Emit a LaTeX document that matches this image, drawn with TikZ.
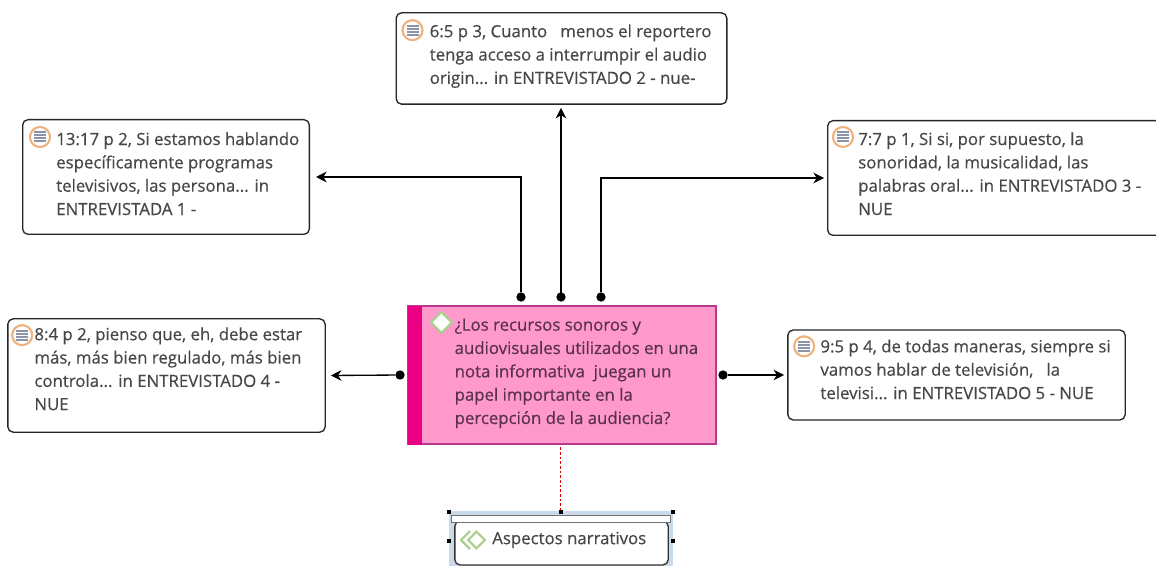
\documentclass[tikz,border=0pt]{standalone}
\usepackage{fontspec}
\setmainfont[FakeBold=0.5]{Open Sans}
\usetikzlibrary{arrows.meta,calc}

\definecolor{notetxt}{HTML}{474747}
\definecolor{mainfill}{HTML}{FF99CC}
\definecolor{mainline}{HTML}{B83A8E}
\definecolor{mainband}{HTML}{EA0082}
\definecolor{maintxt}{HTML}{5A3052}
\definecolor{iconring}{HTML}{EDB27E}
\definecolor{iconbars}{HTML}{8A94A6}
\definecolor{codegreen}{HTML}{A9D08E}
\definecolor{selblue}{HTML}{CBDAEA}

\begin{document}
\begin{tikzpicture}[x=0.75pt,y=-0.75pt,>={Stealth[length=8pt,width=8pt]},
    quote/.style={draw=black!85,line width=1pt,rounded corners=4pt,fill=white,inner sep=0pt},
    quotetext/.style={anchor=north west,inner sep=0pt,align=left,text=notetxt,
      font=\fontsize{12.6pt}{17.5pt}\selectfont},
    link/.style={->,line width=1pt,black},
    dot/.style={circle,fill=black,inner sep=0pt,minimum size=7pt},
    handle/.style={fill=black,inner sep=0pt,minimum size=3pt},
    noteicon/.pic={
      \draw[iconring,line width=1.6pt,fill=white] (0,0) circle (10);
      \foreach \i in {-4.5,-1.5,1.5,4.5}
        \draw[iconbars,line width=1.5pt] (-6,\i) -- (6,\i);
    },
    codeicon/.pic={
      \draw[codegreen,line width=1.6pt,fill=white] (-10.5,0) -- (0,-10.5) -- (10.5,0) -- (0,10.5) -- cycle;
    }]
  \useasboundingbox (0,0) rectangle (1156,566);

  % question in the middle
  \node[draw=mainline,line width=0.9pt,fill=mainfill,minimum width=231pt,minimum height=103.5pt,inner sep=0pt] (main) at (562,375) {};
  \fill[mainband] ([shift={(0.5,0.5)}]main.north west) rectangle ([xshift=11.25pt]main.south west);
  \node[quotetext,text=maintxt] (maintext) at ([shift={(47,13)}]main.north west)
    {¿Los recursos sonoros y\\audiovisuales utilizados en una\\nota informativa\ \ juegan un\\papel importante en la\\percepción de la audiencia?};
  \pic at ([shift={(34,17)}]main.north west) {codeicon};

  % quotations
  \node[quote,minimum width=248pt,minimum height=68.5pt] (q65) at (561.5,58.5) {};
  \node[quotetext] (q65text) at ([shift={(34,12)}]q65.north west)
    {6:5 p 3, Cuanto\ \ \ menos el reportero\\tenga acceso a interrumpir el audio\\origin... in ENTREVISTADO 2 - nue-};
  \pic at ([shift={(17,18)}]q65.north west) {noteicon};

  \node[quote,minimum width=215pt,minimum height=86pt] (q1317) at (166,177) {};
  \node[quotetext] (q1317text) at ([shift={(34,13)}]q1317.north west)
    {13:17 p 2, Si estamos hablando\\específicamente programas\\televisivos, las persona... in\\ENTREVISTADA 1 -};
  \pic at ([shift={(18,18)}]q1317.north west) {noteicon};

  \node[quote,minimum width=260pt,minimum height=86pt] (q77) at (1001,178) {};
  \node[quotetext] (q77text) at ([shift={(31,12)}]q77.north west)
    {7:7 p 1, Si si, por supuesto, la\\sonoridad, la musicalidad, las\\palabras oral... in ENTREVISTADO 3 -\\NUE};
  \pic at ([shift={(16,17)}]q77.north west) {noteicon};

  \node[quote,minimum width=238pt,minimum height=85pt] (q84) at (166.5,375.5) {};
  \node[quotetext] (q84text) at ([shift={(27,9)}]q84.north west)
    {8:4 p 2, pienso que, eh, debe estar\\más, más bien regulado, más bien\\controla... in ENTREVISTADO 4 -\\NUE};
  \pic at ([shift={(15,17)}]q84.north west) {noteicon};

  \node[quote,minimum width=253pt,minimum height=67.5pt] (q95) at (956.5,375) {};
  \node[quotetext] (q95text) at ([shift={(33,10)}]q95.north west)
    {9:5 p 4, de todas maneras, siempre si\\vamos hablar de televisión,\ \ \ la\\televisi... in ENTREVISTADO 5 - NUE};
  \pic at ([shift={(17,17)}]q95.north west) {noteicon};

  % selected code at the bottom
  \node[fill=selblue,minimum width=168pt,minimum height=41.25pt,inner sep=0pt] (sel) at (560.5,538.5) {};
  \node[draw=black!80,line width=1pt,fill=white,rounded corners=4pt,minimum width=160pt,minimum height=33pt,inner sep=0pt] (code) at (561.5,543) {};
  \node[draw=black!55,line width=0.8pt,fill=white,minimum width=164pt,minimum height=5pt,inner sep=0pt] (codebar) at (561,519) {};
  \node[anchor=west,inner sep=0pt,text=notetxt,font=\fontsize{12.6pt}{14pt}\selectfont] (codetext) at (492,540) {Aspectos narrativos};
  \draw[codegreen,line width=1.6pt] (470,531) -- (461,540) -- (470,549);
  \pic[scale=0.8] at (476.5,540) {codeicon};

  % connectors
  \node[dot] (d1) at (521,297) {};
  \node[dot] (d2) at (561,297) {};
  \node[dot] (d3) at (601,297) {};
  \node[dot] (d4) at (400,375) {};
  \node[dot] (d5) at (723,375) {};
  \coordinate (e1) at ($(q1317.east)+(6,0)$);
  \coordinate (e2) at ($(q65.south)+(0,3)$);
  \coordinate (e3) at ($(q77.west)+(-3,0)$);
  \coordinate (e4) at ($(q84.east)+(5,0)$);
  \coordinate (e5) at ($(q95.west)+(-3,0)$);
  \draw[link] (d1) |- (e1);
  \draw[link] (d2.center) -- (e2 -| d2);
  \draw[link] (d3) |- (e3);
  \draw[link] (d4) -- (e4);
  \draw[link] (d5) -- (e5);
  \draw[red!85!black,line width=1pt,dash pattern=on 2pt off 1.5pt,shorten <=2pt] (main.south -| sel) -- (sel.north);
  \foreach \hx/\hy in {449/512,561/512,673/512,449/541,673/541}
    \node[handle] at (\hx,\hy) {};
\end{tikzpicture}
\end{document}
